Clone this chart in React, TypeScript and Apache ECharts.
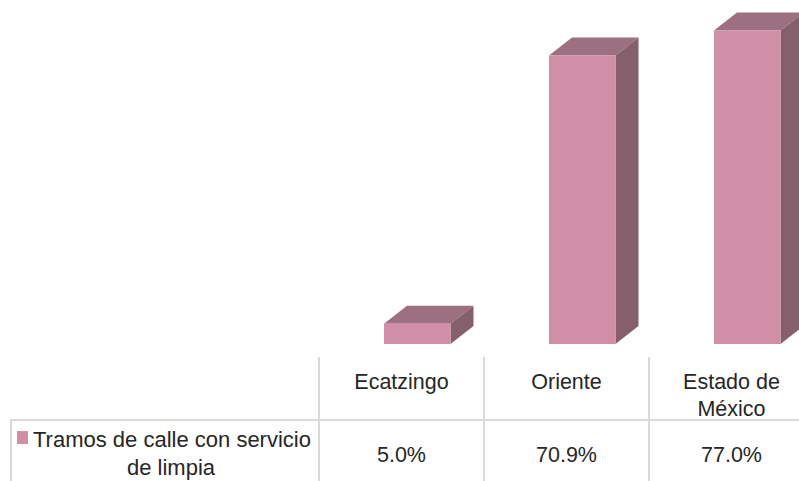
import React, { useEffect, useRef } from "react";
import * as echarts from "echarts";

const categories = ["Ecatzingo", "Oriente", "Estado de\nMéxico"];
const values = [5.0, 70.9, 77.0];
const seriesName = ["Tramos de calle con servicio", "de limpia"];

const FONT = "'Liberation Sans', Arial, sans-serif";
const FONT_SIZE = 21.5;
const FRONT = "#d08fa6";
const TOP = "#9c7080";
const SIDE = "#865f6c";
const GRID_LINE = "#d9d9d9";
const TEXT = "#262626";

export default function App() {
  const ref = useRef<HTMLDivElement>(null);
  useEffect(() => {
    const chart = echarts.init(ref.current!, undefined, { renderer: "svg" });
    const vLine = (x: number, y1: number, y2: number) => ({
      type: "line",
      silent: true,
      shape: { x1: x, y1, x2: x, y2 },
      style: { stroke: GRID_LINE, lineWidth: 2 },
    });
    chart.setOption({
      animation: false,
      backgroundColor: "#ffffff",
      grid: { left: 401.5, top: 18.4, width: 330, height: 325.6, containLabel: false },
      xAxis: {
        type: "category",
        boundaryGap: false,
        data: categories,
        axisLine: { show: false },
        axisTick: { show: false },
        axisLabel: {
          interval: 0,
          color: TEXT,
          fontFamily: FONT,
          fontSize: FONT_SIZE,
          lineHeight: 27,
          verticalAlign: "top",
          margin: 24,
        },
      },
      yAxis: { type: "value", min: 0, max: 80, show: false },
      series: [
        {
          type: "custom",
          name: seriesName.join(" "),
          data: values.map((v, i) => [i, v]),
          clip: false,
          renderItem: (_p: any, api: any) => {
            const i = api.value(0);
            const v = api.value(1);
            const [cx, top] = api.coord([i, v]);
            const [, base] = api.coord([i, 0]);
            const l = cx - 17.5;
            const r = l + 66.5;
            const dx = 23;
            const dy = 18;
            const poly = (points: number[][], fill: string) => ({
              type: "polygon",
              shape: { points },
              style: { fill },
            });
            return {
              type: "group",
              children: [
                poly([[l, top], [r, top], [r + dx, top - dy], [l + dx, top - dy]], TOP),
                poly([[r, top], [r + dx, top - dy], [r + dx, base - dy], [r, base]], SIDE),
                poly([[l, top], [r, top], [r, base], [l, base]], FRONT),
                {
                  type: "text",
                  style: {
                    text: v.toFixed(1) + "%",
                    x: cx,
                    y: 455,
                    align: "center",
                    verticalAlign: "middle",
                    fill: TEXT,
                    font: `${FONT_SIZE}px ${FONT}`,
                  },
                },
              ],
            };
          },
        },
      ],
      graphic: [
        vLine(319, 357, 481),
        vLine(484, 357, 481),
        vLine(649, 357, 481),
        vLine(11, 420, 481),
        {
          type: "line",
          silent: true,
          shape: { x1: 10, y1: 420, x2: 799, y2: 420 },
          style: { stroke: GRID_LINE, lineWidth: 2 },
        },
        {
          type: "rect",
          silent: true,
          shape: { x: 17, y: 431, width: 11, height: 13 },
          style: { fill: FRONT },
        },
        {
          type: "text",
          silent: true,
          style: {
            text: seriesName[0],
            x: 33,
            y: 439,
            align: "left",
            verticalAlign: "middle",
            fill: TEXT,
            font: `22px ${FONT}`,
          },
        },
        {
          type: "text",
          silent: true,
          style: {
            text: seriesName[1],
            x: 171,
            y: 467,
            align: "center",
            verticalAlign: "middle",
            fill: TEXT,
            font: `22px ${FONT}`,
          },
        },
      ],
    });
    return () => chart.dispose();
  }, []);
  return (
    <div
      ref={ref}
      style={{ position: "absolute", left: 0, top: 0, width: 799, height: 481 }}
    />
  );
}
